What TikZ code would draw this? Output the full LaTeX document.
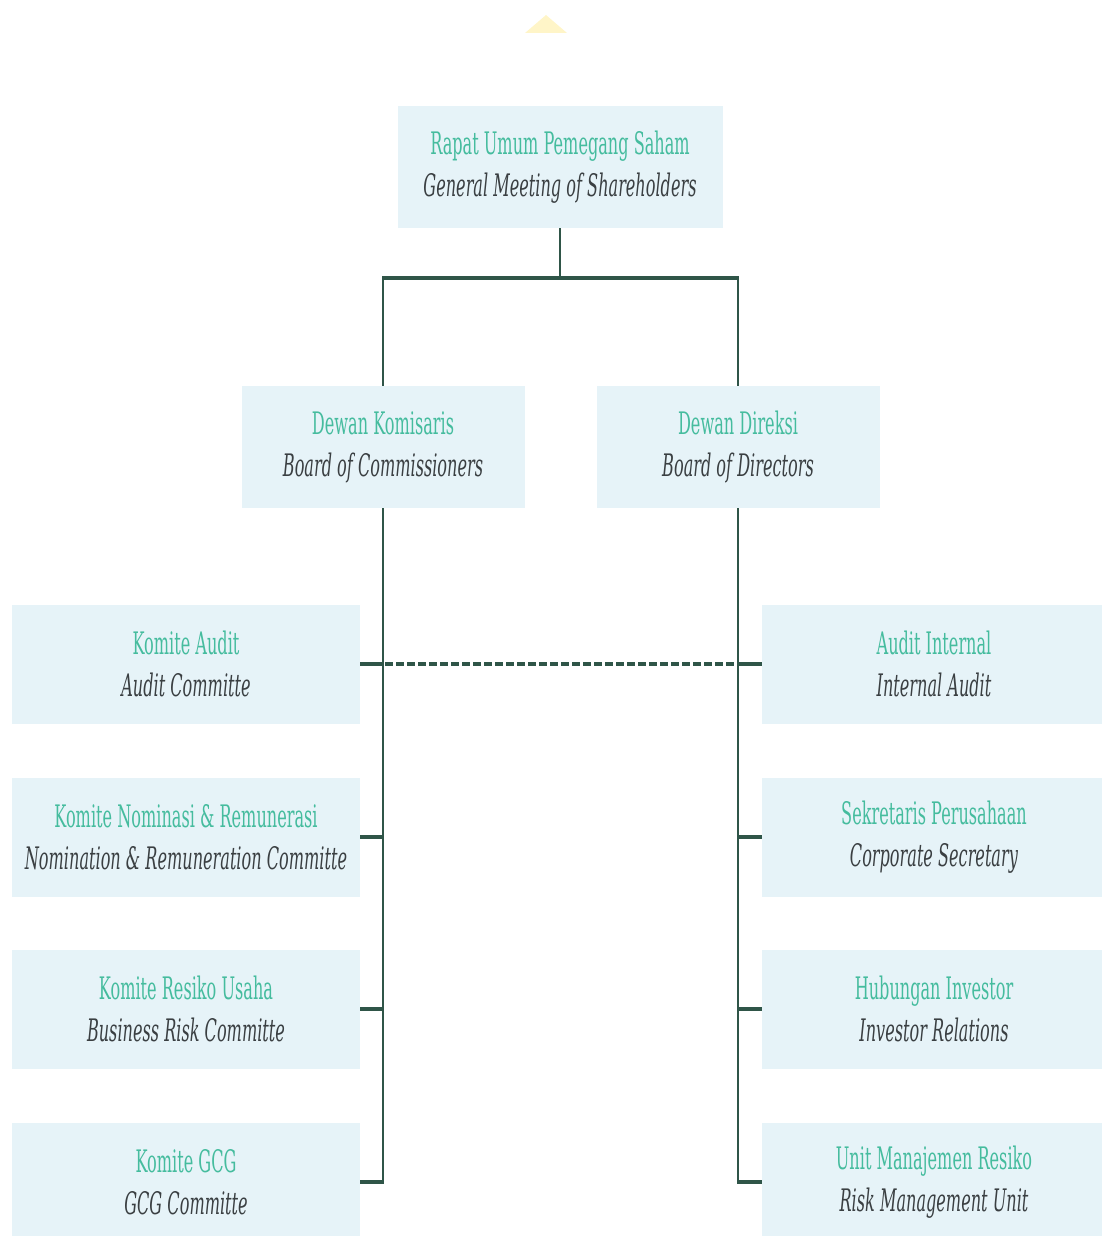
\documentclass[tikz,border=0pt]{standalone}
\usepackage{fontspec}
\setmainfont{DejaVu Serif}[FakeStretch=0.52]
\definecolor{boxfill}{HTML}{E6F3F8}
\definecolor{idtext}{HTML}{45BC9E}
\definecolor{entext}{HTML}{3A3F42}
\definecolor{linec}{HTML}{2F5548}
\definecolor{tri}{HTML}{FFF5C8}
\tikzset{
  orgbox/.style={fill=boxfill, draw=none, inner sep=0pt, align=center, text=entext,
    font=\fontsize{31}{42}\selectfont},
  topbox/.style={orgbox, minimum width=325pt, minimum height=122pt},
  midbox/.style={orgbox, minimum width=283pt, minimum height=122pt},
  leftbox/.style={orgbox, minimum width=348pt, minimum height=119pt},
  rightbox/.style={orgbox, minimum width=344pt, minimum height=119pt},
  vline/.style={draw=linec, line width=2.2pt},
  hline/.style={draw=linec, line width=4pt},
  dline/.style={draw=linec, line width=3.5pt, dash pattern=on 7.5pt off 3.5pt}
}
\newcommand{\idt}[1]{\textcolor{idtext}{#1}}
\begin{document}
\begin{tikzpicture}[x=1pt,y=-1pt]
\useasboundingbox (0,0) rectangle (1102,1236);
\clip (0,0) rectangle (1102,1236);
\fill[tri] (525,33) -- (546,15) -- (567,33) -- cycle;

\node[topbox] (rups) at (560,167) {\idt{Rapat Umum Pemegang Saham}\\\textit{General Meeting of Shareholders}};
\node[midbox] (kom) at (383,447) {\idt{Dewan Komisaris}\\\textit{Board of Commissioners}};
\node[midbox] (dir) at (738,447) {\idt{Dewan Direksi}\\\textit{Board of Directors}};

\node[leftbox] (ka) at (186,664) {\idt{Komite Audit}\\\textit{Audit Committe}};
\node[leftbox] (knr) at (186,837) {\idt{Komite Nominasi \& Remunerasi}\\\textit{Nomination \& Remuneration Committe}};
\node[leftbox] (kru) at (186,1009) {\idt{Komite Resiko Usaha}\\\textit{Business Risk Committe}};
\node[leftbox] (kg) at (186,1182) {\idt{Komite GCG}\\\textit{GCG Committe}};

\node[rightbox] (ai) at (934,664) {\idt{Audit Internal}\\\textit{Internal Audit}};
\node[rightbox] (sp) at (934,837) {\idt{Sekretaris Perusahaan}\\\textit{Corporate Secretary}};
\node[rightbox] (hi) at (934,1009) {\idt{Hubungan Investor}\\\textit{Investor Relations}};
\node[rightbox] (umr) at (934,1182) {\idt{Unit Manajemen Resiko}\\\textit{Risk Management Unit}};

\coordinate (split) at (560,278);
\coordinate (kl) at (383,278);
\coordinate (dr) at (738,278);

\draw[vline] (rups.south) -- (split);
\draw[hline] ([xshift=-1pt]kl) -- ([xshift=1pt]dr);
\draw[vline] (kl) -- (kl |- kom.north);
\draw[vline] (dr) -- (dr |- dir.north);

\draw[vline] (kl |- kom.south) -- ([yshift=1pt]kl |- kg.east);
\draw[vline] (dr |- dir.south) -- ([yshift=1pt]dr |- umr.west);

\foreach \n in {ka,knr,kru,kg} {
  \draw[hline] (\n.east) -- ([xshift=1.1pt]kl |- \n.east);
}
\foreach \n in {ai,sp,hi,umr} {
  \draw[hline] (\n.west) -- ([xshift=-1.1pt]dr |- \n.west);
}
\draw[dline] ([xshift=2pt]kl |- ka.east) -- ([xshift=-2pt]dr |- ai.west);
\end{tikzpicture}
\end{document}
